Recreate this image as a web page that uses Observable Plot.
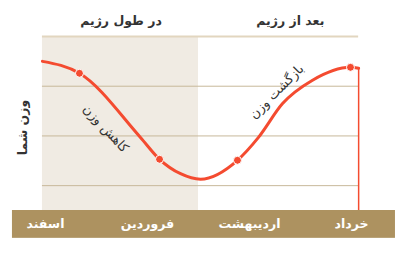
<!DOCTYPE html>
<html>
<head>
<meta charset="utf-8">
<script src="https://cdn.jsdelivr.net/npm/d3@7"></script>
<script src="https://cdn.jsdelivr.net/npm/@observablehq/plot@0.6"></script>
<style>
  html, body { margin: 0; padding: 0; background: #ffffff; }
  #chart svg { display: block; }
</style>
</head>
<body>
<div id="chart"></div>
<script>
// Month labels along the bottom band (x = month index)
const months = ["اسفند", "فروردین", "اردیبهشت", "خرداد"];
const monthPos = [0, 1, 2, 3];

// Phase headers
const phases = ["در طول رژیم", "بعد از رژیم"];
const phaseX = [0.74, 2.40];

// Weight curve (arbitrary weight units)
const curveX = [-0.03, 0.333, 0.931, 1.118, 1.324, 1.52, 1.882, 2.088, 2.324, 2.618, 2.99, 3.07];
const curveY = [90.0, 87.6, 74.7, 70.3, 67.4, 66.3, 70.1, 74.7, 81.5, 86.2, 88.8, 88.6];

// Highlighted points
const dotX = [0.333, 1.118, 1.882, 2.99];
const dotY = [87.6, 70.3, 70.1, 88.8];

// Gridlines
const gridY = [65, 75, 85];
const topY = 95;
const baseY = 60;

// Extents
const plotX0 = -0.03, plotX1 = 3.07, dietEnd = 1.5;
const bandX0 = -0.324, bandX1 = 3.431, bandY0 = 54.4;

// Annotations
const annotations = ["کاهش وزن", "بازگشت وزن"];
const annX = [0.59, 2.265];
const annY = [76.5, 83.9];
const annRotate = [47, -45];

const yLabel = "وزن شما";

const font = "DejaVu Sans, sans-serif";
const red = "#f44b30";

const curve = curveX.map((x, i) => ({x, y: curveY[i]}));

const chart = Plot.plot({
  width: 410,
  height: 254,
  margin: 0,
  style: {background: "#ffffff", fontFamily: font},
  x: {type: "linear", domain: [0, 3], range: [45, 351], axis: null},
  y: {type: "linear", domain: [60, 95], range: [210, 36], axis: null},
  marks: [
    // shaded "during diet" area
    Plot.rect([{x1: plotX0, x2: dietEnd, y1: baseY, y2: topY}], {x1: "x1", x2: "x2", y1: "y1", y2: "y2", fill: "#f0ebe3"}),
    // gridlines
    Plot.ruleY(gridY, {x1: plotX0, x2: plotX1, stroke: "#c7b89a", strokeWidth: 1}),
    Plot.ruleY([topY], {x1: plotX0, x2: plotX1, stroke: "#e2d6bf", strokeWidth: 2}),
    // bottom band
    Plot.rect([{x1: bandX0, x2: bandX1, y1: bandY0, y2: baseY}], {x1: "x1", x2: "x2", y1: "y1", y2: "y2", fill: "#ad9260"}),
    Plot.text(months, {x: monthPos, y: 57.2, fill: "#ffffff", fontWeight: "bold", fontSize: 12.5, fontFamily: font}),
    // end marker
    Plot.ruleX([plotX1], {y1: baseY, y2: curveY[curveY.length - 1], stroke: red, strokeWidth: 1.5}),
    // curve
    Plot.line(curve, {x: "x", y: "y", stroke: red, strokeWidth: 3, curve: "monotone-x"}),
    Plot.dot(dotX, {x: dotX, y: dotY, r: 4, fill: red, stroke: "#ffffff", strokeWidth: 1}),
    // headers
    Plot.text(phases, {x: phaseX, y: 98.2, fill: "#333333", fontWeight: "bold", fontSize: 12.5, fontFamily: font}),
    // annotations
    Plot.text([annotations[0]], {x: annX[0], y: annY[0], rotate: annRotate[0], fill: "#333333", fontSize: 13, fontFamily: font}),
    Plot.text([annotations[1]], {x: annX[1], y: annY[1], rotate: annRotate[1], fill: "#333333", fontSize: 13, fontFamily: font}),
    // y label
    Plot.text([yLabel], {x: -0.225, y: 76.7, rotate: -90, fill: "#333333", fontWeight: "bold", fontSize: 12.5, fontFamily: font})
  ]
});
document.getElementById("chart").appendChild(chart);
</script>
</body>
</html>
